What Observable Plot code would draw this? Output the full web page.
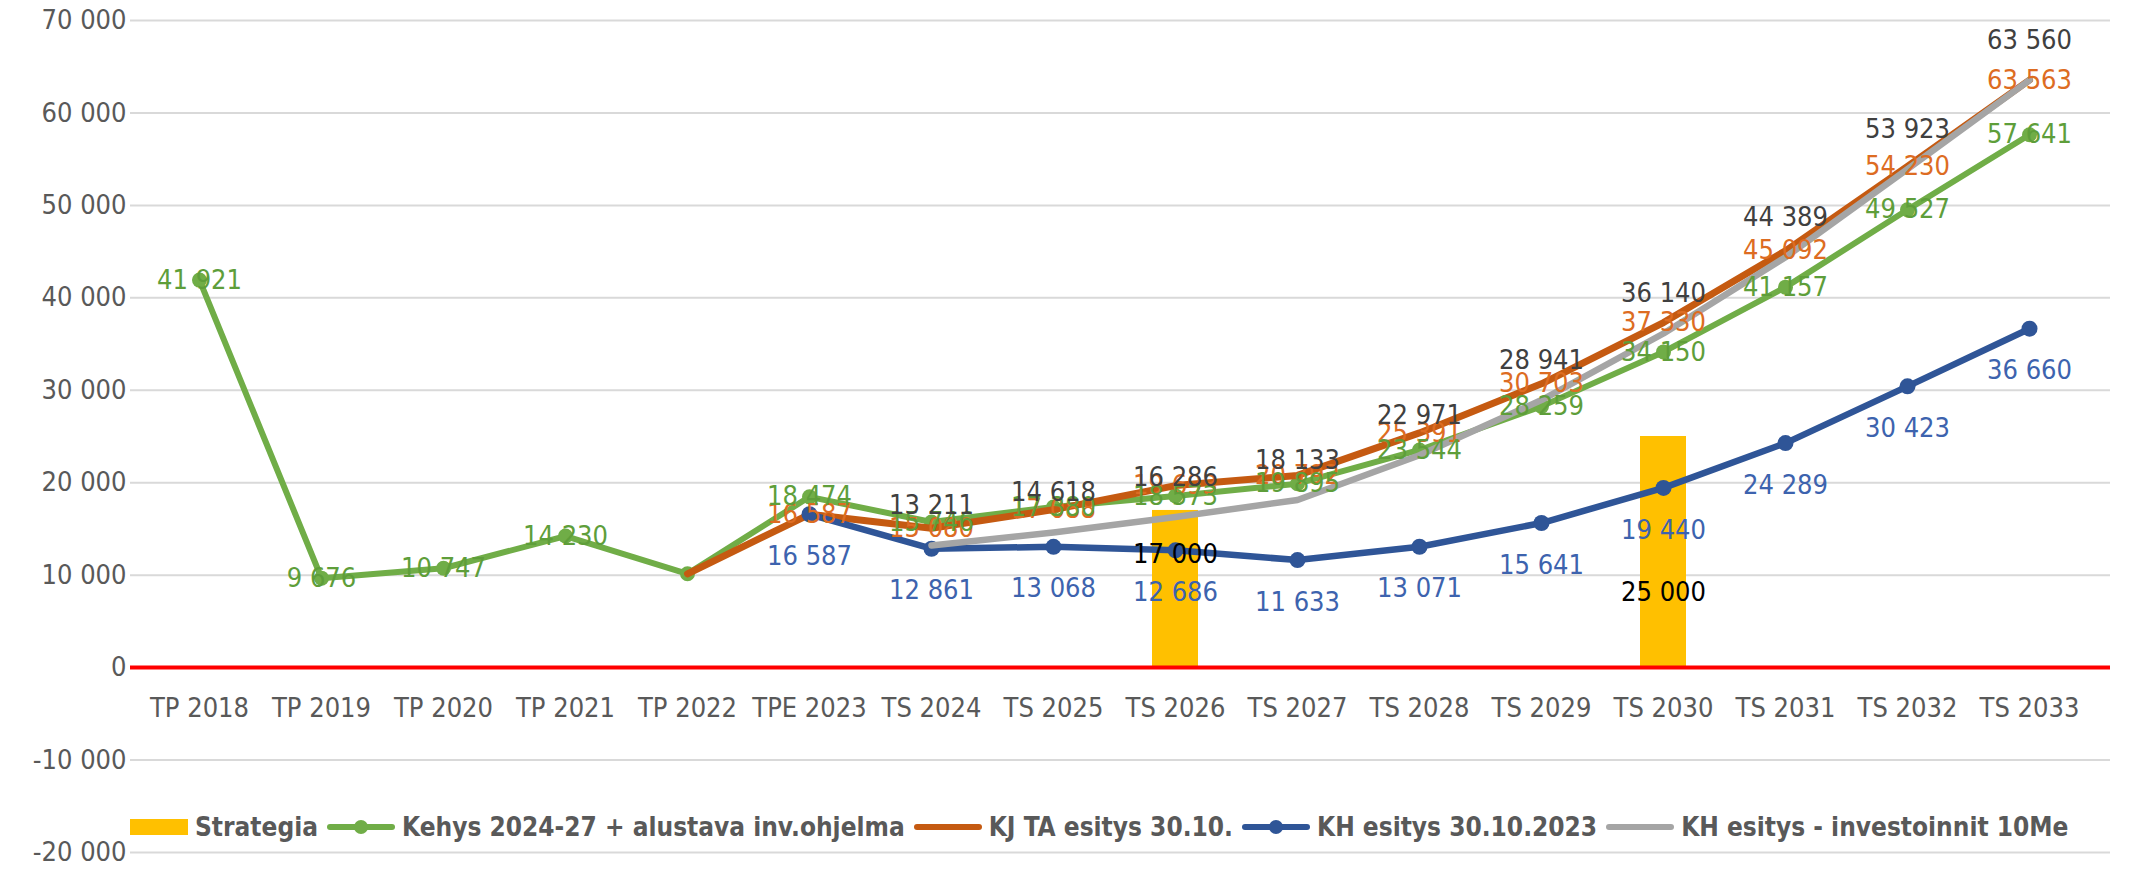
<!DOCTYPE html>
<html><head><meta charset="utf-8">
<script src="https://cdn.jsdelivr.net/npm/d3@7"></script>
<script src="https://cdn.jsdelivr.net/npm/@observablehq/plot@0.6"></script>
<style>
body{margin:0;background:#fff;}
#wrap{position:relative;width:2148px;height:869px;font-family:"Liberation Sans Narrow","DejaVu Sans Condensed","DejaVu Sans",sans-serif;}
#wrap svg{display:block;}
#legend{position:absolute;left:130px;top:809px;display:flex;align-items:center;font-weight:bold;font-size:26px;color:#595959;white-space:nowrap;line-height:36px;}
#legend .item{display:flex;align-items:center;margin-right:9px;}
#legend .item svg{margin-right:7px;}
</style>
</head><body>
<div id="wrap"></div>
<script>
// ---- data ----
const categories = ["TP 2018","TP 2019","TP 2020","TP 2021","TP 2022","TPE 2023","TS 2024","TS 2025","TS 2026","TS 2027","TS 2028","TS 2029","TS 2030","TS 2031","TS 2032","TS 2033"];
const strategia  = [null,null,null,null,null,null,null,null,17000,null,null,null,25000,null,null,null];
const kehys      = [41921,9676,10747,14230,10150,18474,15746,17380,18573,19895,23544,28259,34150,41157,49527,57641];
const kjTa       = [null,null,null,null,10150,16587,15080,17088,19693,20792,25391,30703,37330,45092,54230,63563];
const khEsitys   = [null,null,null,null,null,16587,12861,13068,12686,11633,13071,15641,19440,24289,30423,36660];
const khInv      = [null,null,null,null,null,null,13211,14618,16286,18133,22971,28941,36140,44389,53923,63560];
const yTicks     = [-20000,-10000,0,10000,20000,30000,40000,50000,60000,70000];
const seriesNames = ["Strategia","Kehys 2024-27 + alustava inv.ohjelma","KJ TA esitys 30.10.","KH esitys 30.10.2023","KH esitys - investoinnit 10Me"];
const hiddenLabelCats = ["TP 2022"];

// ---- helpers ----
const fmt = d3.formatLocale({decimal:",",thousands:"\u00a0",grouping:[3],currency:["",""],minus:"-"}).format(",d");
const rows = (vals) => categories.map((c,i)=>({cat:c, v:vals[i]})).filter(d=>d.v!=null);
const strat = rows(strategia), green = rows(kehys), orange = rows(kjTa), blue = rows(khEsitys), gray = rows(khInv);
const lbl = (arr) => arr.filter(d=>!hiddenLabelCats.includes(d.cat));

const C = {bar:"#FFC000", green:"#70AD47", orange:"#C55A11", blue:"#2F5597", gray:"#A5A5A5"};
const FS = 27;

const chart = Plot.plot({
  width: 2148, height: 869,
  marginTop: 20, marginBottom: 17, marginLeft: 133, marginRight: 53,
  style: {fontFamily: '"Liberation Sans Narrow","DejaVu Sans Condensed","DejaVu Sans",sans-serif', fontSize: FS+"px", color:"#595959", background:"#fff"},
  x: {domain: categories, type:"band", paddingInner: 0.62, paddingOuter: 0.31, axis: null},
  y: {domain: [-20000, 70000], ticks: yTicks, tickFormat: fmt, tickSize: 0, tickPadding: 7, label: null},
  marks: [
    Plot.ruleY(yTicks.filter(t=>t!==0), {stroke:"#D9D9D9", strokeWidth:2, insetLeft:-3, insetRight:-15}),
    Plot.barY(strat, {x:"cat", y:"v", fill:C.bar}),
    Plot.ruleY([0], {stroke:"#FF0000", strokeWidth:4, insetLeft:-3, insetRight:-15}),
    Plot.text(categories, {x:d=>d, y:()=>0, dy:41, text:d=>d, fill:"#595959", fontSize:FS}),
    Plot.line(green, {x:"cat", y:"v", stroke:C.green, strokeWidth:6, strokeLinejoin:"round", strokeLinecap:"round"}),
    Plot.dot(green, {x:"cat", y:"v", r:7.5, fill:C.green}),
    Plot.line(orange, {x:"cat", y:"v", stroke:C.orange, strokeWidth:7, strokeLinejoin:"round", strokeLinecap:"round"}),
    Plot.line(blue, {x:"cat", y:"v", stroke:C.blue, strokeWidth:6.5, strokeLinejoin:"round", strokeLinecap:"round"}),
    Plot.dot(blue, {x:"cat", y:"v", r:8, fill:C.blue}),
    Plot.line(gray, {x:"cat", y:"v", stroke:C.gray, strokeWidth:6.5, strokeLinejoin:"round", strokeLinecap:"round"}),
    Plot.text(lbl(orange), {x:"cat", y:"v", text:d=>fmt(d.v), fill:"#DD6C22", fontSize:FS}),
    Plot.text(lbl(green), {x:"cat", y:"v", text:d=>fmt(d.v), fill:"#5E9E3A", fontSize:FS}),
    Plot.text(blue, {x:"cat", y:"v", dy:42, text:d=>fmt(d.v), fill:"#3D63AE", fontSize:FS}),
    Plot.text(gray, {x:"cat", y:"v", dy:-40, text:d=>fmt(d.v), fill:"#404040", fontSize:FS}),
    Plot.text(strat.filter(d=>d.cat==="TS 2026"), {x:"cat", y:"v", dy:44, text:d=>fmt(d.v), fill:"#000", fontSize:FS}),
    Plot.text(strat.filter(d=>d.cat==="TS 2030"), {x:"cat", y:"v", dy:156, text:d=>fmt(d.v), fill:"#000", fontSize:FS})
  ]
});
const wrap = document.getElementById("wrap");
wrap.appendChild(chart);

// ---- legend ----
const legend = document.createElement("div");
legend.id = "legend";
const sw = [
  `<svg width="58" height="20"><rect x="0" y="2" width="58" height="16" fill="${C.bar}"/></svg>`,
  `<svg width="68" height="20"><line x1="3" y1="10" x2="65" y2="10" stroke="${C.green}" stroke-width="6" stroke-linecap="round"/><circle cx="34" cy="10" r="7" fill="${C.green}"/></svg>`,
  `<svg width="68" height="20"><line x1="3" y1="10" x2="65" y2="10" stroke="${C.orange}" stroke-width="6" stroke-linecap="round"/></svg>`,
  `<svg width="68" height="20"><line x1="3" y1="10" x2="65" y2="10" stroke="${C.blue}" stroke-width="6" stroke-linecap="round"/><circle cx="34" cy="10" r="7" fill="${C.blue}"/></svg>`,
  `<svg width="68" height="20"><line x1="3" y1="10" x2="65" y2="10" stroke="${C.gray}" stroke-width="6" stroke-linecap="round"/></svg>`
];
seriesNames.forEach((n,i)=>{
  const it = document.createElement("div");
  it.className = "item";
  it.innerHTML = sw[i] + `<span>${n}</span>`;
  legend.appendChild(it);
});
wrap.appendChild(legend);
</script>
</body></html>
